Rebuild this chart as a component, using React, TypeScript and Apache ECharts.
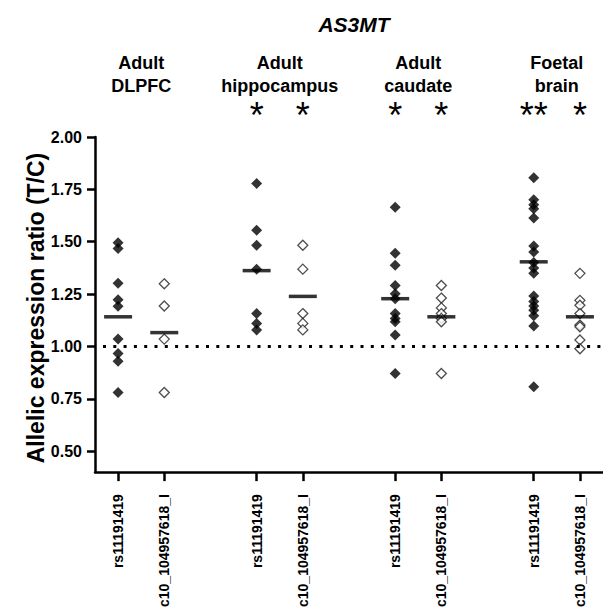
import React, { useEffect, useRef } from "react";
import * as echarts from "echarts";

const title = "AS3MT";
const groupLabels = ["Adult\nDLPFC", "Adult\nhippocampus", "Adult\ncaudate", "Foetal\nbrain"];
const snpLabels = ["rs11191419", "c10_104957618_I"];
const yTicks = [0.5, 0.75, 1.0, 1.25, 1.5, 1.75, 2.0];
const yAxisTitle = "Allelic expression ratio (T/C)";
const yMin = 0.4;
const yMax = 2.0;

const rsValues = [
  [1.495, 1.468, 1.302, 1.223, 1.192, 1.035, 0.966, 0.929, 0.78],
  [1.778, 1.555, 1.483, 1.369, 1.157, 1.11, 1.079],
  [1.665, 1.445, 1.388, 1.291, 1.251, 1.228, 1.157, 1.134, 1.118, 1.055, 0.871],
  [1.805, 1.7, 1.676, 1.657, 1.613, 1.48, 1.451, 1.401, 1.374, 1.349, 1.241, 1.215, 1.193, 1.173, 1.146, 1.097, 0.808],
];
const c10Values = [
  [1.299, 1.193, 1.035, 0.78],
  [1.483, 1.369, 1.157, 1.11, 1.079],
  [1.291, 1.231, 1.184, 1.157, 1.134, 1.118, 0.871],
  [1.349, 1.22, 1.197, 1.157, 1.102, 1.094, 1.031, 0.989],
];
const rsMeans = [1.1415, 1.362, 1.228, 1.404];
const c10Means = [1.066, 1.239, 1.1415, 1.1415];
const rsStars = ["", "*", "*", "**"];
const c10Stars = ["", "*", "*", "*"];
const refLine = 1.0;

const FONT = "'Liberation Sans', Arial, sans-serif";

export default function App() {
  const ref = useRef<HTMLDivElement>(null);
  useEffect(() => {
    if (!ref.current) return;
    const chart = echarts.init(ref.current, null, { renderer: "svg" });
    const pos = (g: number, s: number) => g * 3 + s;
    // category slots: two SNP columns per group, an empty slot between groups
    const categories: string[] = [];
    groupLabels.forEach((_, g) => {
      if (g > 0) categories.push("");
      snpLabels.forEach((name) => categories.push(name));
    });
    const filled: number[][] = [];
    const hollow: number[][] = [];
    const means: number[][] = [];
    rsValues.forEach((arr, g) => arr.forEach((v) => filled.push([pos(g, 0), v])));
    c10Values.forEach((arr, g) => arr.forEach((v) => hollow.push([pos(g, 1), v])));
    rsMeans.forEach((m, g) => means.push([pos(g, 0), m]));
    c10Means.forEach((m, g) => means.push([pos(g, 1), m]));

    chart.setOption({
      animation: false,
      grid: { left: 95, right: -2, top: 137, bottom: 134 },
      xAxis: {
        type: "category",
        data: categories,
        boundaryGap: true,
        splitLine: { show: false },
        axisLine: { show: true, onZero: false, lineStyle: { color: "#000", width: 2.5 } },
        axisTick: {
          show: true,
          alignWithLabel: true,
          interval: (i: number, v: string) => v !== "",
          length: 9,
          lineStyle: { color: "#000", width: 2.5 },
        },
        axisLabel: {
          interval: 0,
          rotate: 90,
          margin: 22,
          color: "#000",
          fontFamily: FONT,
          fontSize: 14,
          fontWeight: "bold",
        },
      },
      yAxis: {
        type: "value",
        min: yMin,
        max: yMax,
        splitLine: { show: false },
        axisLine: { show: true, onZero: false, lineStyle: { color: "#000", width: 2.5 } },
        axisTick: {
          show: true,
          customValues: yTicks,
          length: 8,
          lineStyle: { color: "#000", width: 2.5 },
        },
        axisLabel: {
          customValues: yTicks,
          margin: 13,
          color: "#000",
          fontFamily: FONT,
          fontSize: 16,
          fontWeight: "bold",
          formatter: (v: number) => v.toFixed(2),
        },
      },
      series: [
        {
          type: "scatter",
          data: filled,
          symbol: "diamond",
          symbolSize: 11,
          itemStyle: { color: "#000" },
          z: 3,
          markLine: {
            silent: true,
            symbol: "none",
            label: { show: false },
            lineStyle: { color: "#000", width: 3, type: [3, 7.3], dashOffset: -8 },
            data: [{ yAxis: refLine }],
          },
        },
        {
          type: "scatter",
          data: hollow,
          symbol: "diamond",
          symbolSize: 10,
          itemStyle: { color: "#fff", borderColor: "#222", borderWidth: 1.3 },
          z: 3,
        },
        {
          type: "scatter",
          data: means,
          symbol: "rect",
          symbolSize: [28, 3.5],
          itemStyle: { color: "#000" },
          z: 4,
        },
      ],
    });

    const graphics: any[] = [
      {
        type: "text",
        x: 354,
        y: 24,
        style: {
          text: title,
          fontFamily: FONT,
          fontSize: 21,
          fontWeight: "bold",
          fontStyle: "italic",
          fill: "#000",
          align: "center",
          verticalAlign: "middle",
        },
      },
      {
        type: "text",
        x: 36,
        y: 308,
        rotation: Math.PI / 2,
        style: {
          text: yAxisTitle,
          fontFamily: FONT,
          fontSize: 23,
          fontWeight: "bold",
          fill: "#000",
          align: "center",
          verticalAlign: "middle",
        },
      },
    ];
    groupLabels.forEach((label, g) => {
      const [x0] = chart.convertToPixel({ gridIndex: 0 }, [pos(g, 0), yMin]);
      const [x1] = chart.convertToPixel({ gridIndex: 0 }, [pos(g, 1), yMin]);
      graphics.push({
        type: "text",
        x: (x0 + x1) / 2,
        y: 74,
        style: {
          text: label,
          fontFamily: FONT,
          fontSize: 18,
          fontWeight: "bold",
          lineHeight: 23,
          fill: "#000",
          align: "center",
          verticalAlign: "middle",
        },
      });
      [rsStars[g], c10Stars[g]].forEach((star, s) => {
        if (!star) return;
        const sx = s === 0 ? x0 : x1;
        graphics.push({
          type: "text",
          x: sx,
          y: 115,
          style: {
            text: star,
            fontFamily: FONT,
            fontSize: 36,
            fill: "#000",
            align: "center",
            verticalAlign: "middle",
          },
        });
      });
    });
    chart.setOption({ graphic: graphics });
    return () => chart.dispose();
  }, []);
  return (
    <div
      ref={ref}
      style={{ position: "fixed", left: 0, top: 0, width: 603, height: 610, background: "#fff" }}
    />
  );
}
